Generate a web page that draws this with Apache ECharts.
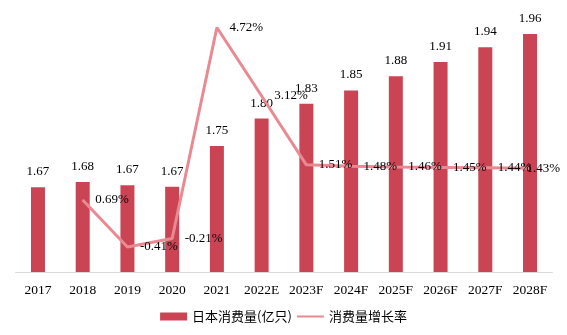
<!DOCTYPE html>
<html>
<head>
<meta charset="utf-8">
<script src="https://cdn.jsdelivr.net/npm/echarts@6/dist/echarts.min.js"></script>
<style>html,body{margin:0;padding:0;background:#fff;}#c{width:567px;height:335px;}</style>
</head>
<body>
<div id="c"></div>
<script>
var categories = ['2017','2018','2019','2020','2021','2022E','2023F','2024F','2025F','2026F','2027F','2028F'];
var consumption = [1.670, 1.680, 1.674, 1.671, 1.748, 1.800, 1.828, 1.853, 1.880, 1.907, 1.935, 1.960];
var growthRate = [null, 0.69, -0.41, -0.21, 4.72, 3.12, 1.51, 1.48, 1.46, 1.45, 1.44, 1.43];
var seriesNames = ['日本消费量(亿只)', '消费量增长率'];

var lineData = growthRate.map(function (v, i) {
  if (i === growthRate.length - 1) {
    return {value: v, label: {offset: [-16, 0]}};
  }
  return v;
});

var chart = echarts.init(document.getElementById('c'), null, {renderer: 'canvas'});
var serif = '"Liberation Serif", "Times New Roman", serif';
chart.setOption({
  animation: false,
  backgroundColor: '#ffffff',
  grid: {left: 15.6, right: 14.6, top: 20, bottom: 63, containLabel: false},
  legend: {
    bottom: 7, left: 'center', itemGap: 4, itemWidth: 27, itemHeight: 8,
    textStyle: {fontSize: 13, color: '#000', fontFamily: '"Noto Sans CJK SC", sans-serif'},
    data: [{name: seriesNames[0], icon: 'rect'}, {name: seriesNames[1], itemStyle: {opacity: 0}}]
  },
  xAxis: {
    type: 'category', data: categories,
    axisLine: {onZero: false, lineStyle: {color: '#d9d9d9', width: 1}},
    axisTick: {show: false},
    axisLabel: {color: '#000', fontSize: 13.5, fontFamily: serif, margin: 11, interval: 0}
  },
  yAxis: [
    {type: 'value', min: 1.51, max: 1.9864, show: false, splitLine: {show: false}},
    {type: 'value', min: -0.994, max: 4.895, show: false, splitLine: {show: false}}
  ],
  series: [
    {
      name: seriesNames[0], type: 'bar', yAxisIndex: 0, data: consumption,
      barWidth: 14,
      itemStyle: {color: '#cb4454'},
      label: {show: true, position: 'top', distance: 9, color: '#000', fontSize: 13, fontFamily: serif,
        formatter: function (p) { return p.value.toFixed(2); }}
    },
    {
      name: seriesNames[1], type: 'line', yAxisIndex: 1, data: lineData,
      symbol: 'circle', symbolSize: 1, showSymbol: true, connectNulls: false,
      lineStyle: {color: '#e98a93', width: 3},
      itemStyle: {color: '#e98a93'},
      label: {show: true, position: 'right', distance: 12, color: '#000', fontSize: 13, fontFamily: serif,
        formatter: function (p) { return p.value.toFixed(2) + '%'; }},
      z: 3
    }
  ]
});
</script>
</body>
</html>
